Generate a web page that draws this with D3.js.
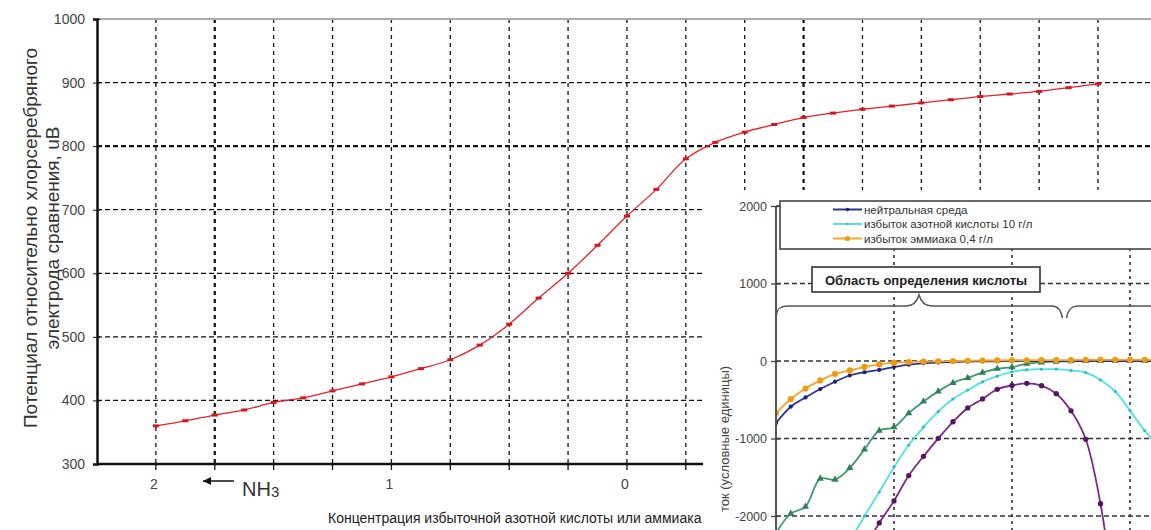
<!DOCTYPE html>
<html>
<head>
<meta charset="utf-8">
<script src="https://cdn.jsdelivr.net/npm/d3@7"></script>
<style>
  body { margin: 0; background: #fff; }
  svg { display: block; font-family: "Liberation Sans", Arial, sans-serif; }
</style>
</head>
<body>
<svg id="chart" width="1151" height="530"></svg>
<script>
// main chart: potential vs excess concentration (axis runs 2 -> -2)
var concentration = [2, 1.875, 1.75, 1.625, 1.5, 1.375, 1.25, 1.125, 1, 0.875, 0.75, 0.625, 0.5, 0.375, 0.25, 0.125, 0,
  -0.125, -0.25, -0.375, -0.5, -0.625, -0.75, -0.875, -1, -1.125, -1.25, -1.375, -1.5, -1.625, -1.75, -1.875, -2];
var potential = [360, 368, 377, 385, 397, 404, 415, 426, 437, 450, 464, 487, 520, 561, 600, 644, 690,
  732, 780, 806, 822, 834, 845, 852, 858, 863, 868, 873, 878, 882, 886, 892, 898];
var potentialTicks = [300, 400, 500, 600, 700, 800, 900, 1000];
var concTickLabels = [2, 1, 0];
var concGrid = [2, 1.75, 1.5, 1.25, 1, 0.75, 0.5, 0.25, 0, -0.25, -0.5, -0.75, -1, -1.25, -1.5, -1.75, -2];

// inset: current curves, point index along x
var insetIndex = [0, 1, 2, 3, 4, 5, 6, 7, 8, 9, 10, 11, 12, 13, 14, 15, 16, 17, 18, 19, 20, 21, 22, 23, 24, 25, 26];
var neutral = [-800, -590, -470, -362, -267, -187, -145, -115, -78, -47, -30, -20, -12, -8, -5, -3, -2, 0, 0, 0, 0, 0, 0, 0, 0, 0, 0];
var nitricExcess = [null, null, null, null, null, -2330, -2000, -1690, -1370, -1085, -852, -652, -490, -375, -270, -196, -140, -113, -105, -105, -122, -150, -244, -392, -640, -900, -1120];
var ammoniaExcess = [-675, -490, -355, -250, -165, -122, -76, -43, -22, -13, -8, -4, 0, 3, 5, 8, 10, 10, 12, 12, 12, 15, 15, 15, 15, 15, 15];
var greenCurve = [-2220, -1970, -1880, -1518, -1530, -1380, -1140, -898, -854, -672, -522, -392, -282, -217, -150, -100, -80, -35, -18, -8, -4, 0, 0, 0, 0, 0, 0];
var purpleCurve = [null, null, null, null, null, null, -2420, -2090, -1805, -1478, -1230, -998, -784, -606, -490, -365, -316, -288, -318, -422, -643, -1010, -1842, -3200, null, null, null];
var currentTicks = [-2000, -1000, 0, 1000, 2000];
var insetGrid = [8, 16, 24];

var svg = d3.select('#chart');
var plain = function (d) { return String(d); };

var x = d3.scaleLinear().domain([2.25, -2.225]).range([97, 1151]);
var y = d3.scaleLinear().domain([300, 1000]).range([464, 19]);

// grid
var grid = svg.append('g');
grid.selectAll('line.v').data(concGrid).enter().append('line')
    .attr('x1', function (d) { return x(d); })
    .attr('x2', function (d) { return x(d); })
    .attr('y1', y(1000)).attr('y2', y(300))
    .attr('stroke', '#111')
    .attr('stroke-width', function (d) { return (d === 1.75 || d === -0.75) ? 2.2 : 1.3; })
    .attr('stroke-dasharray', '4,4');
grid.selectAll('line.h').data(potentialTicks.filter(function (d) { return d > 300 && d < 1000; })).enter().append('line')
    .attr('x1', x(2.25)).attr('x2', 1151)
    .attr('y1', function (d) { return y(d); })
    .attr('y2', function (d) { return y(d); })
    .attr('stroke', '#111')
    .attr('stroke-width', function (d) { return d === 800 ? 2.2 : 1.3; })
    .attr('stroke-dasharray', '5,3');

svg.append('line')
    .attr('x1', x(2.25)).attr('x2', 1151).attr('y1', y(1000)).attr('y2', y(1000))
    .attr('stroke', '#aaa').attr('stroke-width', 2);

// axes
var yAxis = d3.axisLeft(y).tickValues(potentialTicks).tickFormat(plain).tickSize(4).tickPadding(8);
svg.append('g').attr('transform', 'translate(' + x(2.25) + ',0)').call(yAxis)
    .call(function (g) {
      g.select('.domain').attr('stroke', '#111').attr('stroke-width', 2.5);
      g.selectAll('.tick line').attr('stroke', '#111').attr('x2', 3).attr('x1', -4);
      g.selectAll('.tick text').attr('font-size', 14).attr('fill', '#444').attr('font-family', null);
    });

svg.append('line')
    .attr('x1', x(2.25)).attr('x2', 703).attr('y1', y(300)).attr('y2', y(300))
    .attr('stroke', '#111').attr('stroke-width', 2.5);
svg.append('g').selectAll('line').data(concGrid).enter().append('line')
    .attr('x1', function (d) { return x(d); })
    .attr('x2', function (d) { return x(d); })
    .attr('y1', y(300)).attr('y2', y(300) + 6)
    .attr('stroke', '#111').attr('stroke-width', 1.3);
svg.append('g').selectAll('text').data(concTickLabels).enter().append('text')
    .attr('x', function (d) { return x(d) - 2; })
    .attr('y', y(300) + 25)
    .attr('text-anchor', 'middle')
    .attr('font-size', 14).attr('fill', '#444')
    .text(function (d) { return d; });

// red curve
var line = d3.line()
    .x(function (d, i) { return x(concentration[i]); })
    .y(function (d) { return y(d); })
    .curve(d3.curveCatmullRom);
svg.append('path').datum(potential)
    .attr('d', line)
    .attr('fill', 'none').attr('stroke', '#e3222a').attr('stroke-width', 1.3);
svg.append('g').selectAll('rect').data(potential).enter().append('rect')
    .attr('x', function (d, i) { return x(concentration[i]) - 3; })
    .attr('y', function (d) { return y(d) - 1.5; })
    .attr('width', 6).attr('height', 3)
    .attr('fill', '#d8141c');

// y title
var yTitle = svg.append('text')
    .attr('transform', 'translate(37,238) rotate(-90)')
    .attr('text-anchor', 'middle')
    .attr('font-size', 19).attr('fill', '#333');
yTitle.append('tspan').attr('x', 0).attr('dy', 0).text('Потенциал относительно хлорсеребряного');
yTitle.append('tspan').attr('x', 0).attr('dy', 22).text('электрода сравнения, uВ');

// NH3 arrow
svg.append('defs').append('marker')
    .attr('id', 'ah').attr('viewBox', '0 0 10 10').attr('refX', 10).attr('refY', 5)
    .attr('markerWidth', 11).attr('markerHeight', 8).attr('markerUnits', 'userSpaceOnUse')
    .attr('orient', 'auto')
  .append('path').attr('d', 'M0,0 L10,5 L0,10 Z').attr('fill', '#111');
svg.append('line')
    .attr('x1', 234).attr('x2', 203).attr('y1', 481).attr('y2', 481)
    .attr('stroke', '#111').attr('stroke-width', 1.5)
    .attr('marker-end', 'url(#ah)');
var nh = svg.append('text').attr('x', 242).attr('y', 496).attr('font-size', 20).attr('fill', '#333');
nh.append('tspan').text('NH');
nh.append('tspan').attr('font-size', 15).attr('dy', 1).text('3');

svg.append('text')
    .attr('x', 328).attr('y', 523)
    .attr('font-size', 14).attr('fill', '#222')
    .text('Концентрация избыточной азотной кислоты или аммиака');

// ---------- inset ----------
var inset = svg.append('g');
inset.append('rect').attr('x', 703).attr('y', 190).attr('width', 448).attr('height', 340).attr('fill', '#fff');

var ix = d3.scaleLinear().domain([0, 24]).range([776, 1130]);
var iy = d3.scaleLinear().domain([-2000, 2000]).range([516, 206]);

inset.append('clipPath').attr('id', 'iclip')
  .append('rect').attr('x', 777).attr('y', 195).attr('width', 380).attr('height', 340);

inset.selectAll('line.ih').data(currentTicks).enter().append('line')
    .attr('x1', 776).attr('x2', 1151)
    .attr('y1', function (d) { return iy(d); })
    .attr('y2', function (d) { return iy(d); })
    .attr('stroke', '#333').attr('stroke-width', 1.6).attr('stroke-dasharray', '5,3');
inset.selectAll('line.iv').data(insetGrid).enter().append('line')
    .attr('x1', function (d) { return ix(d); })
    .attr('x2', function (d) { return ix(d); })
    .attr('y1', iy(2000)).attr('y2', 530)
    .attr('stroke', '#333').attr('stroke-width', 1.6).attr('stroke-dasharray', '3,4');

var iAxis = d3.axisLeft(iy).tickValues(currentTicks).tickFormat(plain).tickSize(5).tickPadding(4);
inset.append('g').attr('transform', 'translate(776,0)').call(iAxis)
    .call(function (g) {
      g.select('.domain').attr('d', 'M0,' + iy(2000) + 'V530').attr('stroke', '#444').attr('stroke-width', 1.8);
      g.selectAll('.tick line').attr('stroke', '#444').attr('x1', 4).attr('stroke-width', 1.3);
      g.selectAll('.tick text').attr('font-size', 12.5).attr('fill', '#444').attr('font-family', null);
    });

inset.append('text')
    .attr('transform', 'translate(729,439) rotate(-90)')
    .attr('text-anchor', 'middle')
    .attr('font-size', 13).attr('fill', '#444')
    .text('ток (условные единицы)');

var series = [
  { values: purpleCurve, color: '#7b2a86', marker: '#561463', shape: d3.symbolCircle, size: 22 },
  { values: nitricExcess, color: '#4fe3e3', marker: '#35b9c4', shape: d3.symbolCircle, size: 8 },
  { values: greenCurve, color: '#3f9a6c', marker: '#2e8058', shape: d3.symbolTriangle, size: 22 },
  { values: neutral, color: '#2b3590', marker: '#1c2470', shape: d3.symbolCircle, size: 14 },
  { values: ammoniaExcess, color: '#f6a623', marker: '#f09a12', shape: d3.symbolCircle, size: 30 }
];

var plot = inset.append('g').attr('clip-path', 'url(#iclip)');
var iline = d3.line()
    .defined(function (d) { return d !== null; })
    .x(function (d, i) { return ix(insetIndex[i]); })
    .y(function (d) { return iy(d); })
    .curve(d3.curveCatmullRom);
series.forEach(function (s) {
  plot.append('path').datum(s.values)
      .attr('d', iline)
      .attr('fill', 'none').attr('stroke', s.color).attr('stroke-width', 1.8);
  plot.append('g').selectAll('path')
      .data(s.values.map(function (v, i) { return { i: insetIndex[i], v: v }; })
        .filter(function (p) { return p.v !== null; }))
      .enter().append('path')
      .attr('d', d3.symbol().type(s.shape).size(s.size))
      .attr('transform', function (p) { return 'translate(' + ix(p.i) + ',' + iy(p.v) + ')'; })
      .attr('fill', s.marker);
});

// legend
var lg = inset.append('g');
lg.append('rect').attr('x', 780).attr('y', 201).attr('width', 380).attr('height', 48)
    .attr('fill', '#fff').attr('stroke', '#444').attr('stroke-width', 1.6);
var legendItems = [
  { label: 'нейтральная среда', s: series[3] },
  { label: 'избыток азотной кислоты 10 г/л', s: series[1] },
  { label: 'избыток эммиака 0,4 г/л', s: series[4] }
];
legendItems.forEach(function (d, k) {
  var ly = 209.5 + k * 14.5;
  lg.append('line').attr('x1', 833).attr('x2', 862).attr('y1', ly).attr('y2', ly)
      .attr('stroke', d.s.color).attr('stroke-width', 2);
  lg.append('path').attr('d', d3.symbol().type(d.s.shape).size(d.s.size * 0.7))
      .attr('transform', 'translate(847.5,' + ly + ')').attr('fill', d.s.marker);
  lg.append('text').attr('x', 864).attr('y', ly + 4)
      .attr('font-size', 11.5).attr('fill', '#333').text(d.label);
});

// acid region label and braces
inset.append('rect').attr('x', 812).attr('y', 267).attr('width', 228).attr('height', 25)
    .attr('fill', '#fff').attr('stroke', '#333').attr('stroke-width', 1.6);
inset.append('text').attr('x', 926).attr('y', 284.5).attr('text-anchor', 'middle')
    .attr('font-size', 13).attr('font-weight', 'bold').attr('fill', '#222')
    .text('Область определения кислоты');
inset.append('path')
    .attr('d', 'M776.5,315 C777,308 781,306 788,306 L906,306 C913,306 917,302 919,295 C921,302 925,306 932,306 L1052,306 C1058,306 1061,310 1062.5,318')
    .attr('fill', 'none').attr('stroke', '#555').attr('stroke-width', 1.5);
inset.append('path')
    .attr('d', 'M1066.5,318 C1068,310 1071,306 1078,306 L1151,306')
    .attr('fill', 'none').attr('stroke', '#555').attr('stroke-width', 1.5);
</script>
</body>
</html>
